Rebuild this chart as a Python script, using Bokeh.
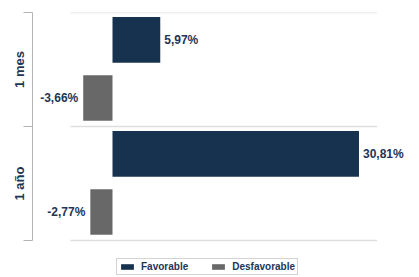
import math
from bokeh.plotting import figure
from bokeh.models import Range1d, FixedTicker, LinearAxis, Legend, LegendItem
from bokeh.core.properties import value
from bokeh.embed import file_html
from bokeh.resources import INLINE

# ---- data ----
categories = ["1 mes", "1 año"]
favorable = [5.97, 30.81]
desfavorable = [-3.66, -2.77]
series_names = ["Favorable", "Desfavorable"]

# ---- styles ----
NAVY = "#17324f"
GREY = "#686868"
TEXT = "#1d3557"
GRID = "#dedede"
AXIS = "#b4b4b4"
FONT = "Liberation Sans"

n = len(categories)
base = [n - 1 - k for k in range(n)]          # first category on top
y_fav = [b + 0.76 for b in base]
y_des = [b + 0.25 for b in base]


def fmt(v):
    return f"{v:.2f}".replace(".", ",") + "%"


p = figure(width=419, height=277, output_backend="svg", toolbar_location=None,
           x_range=Range1d(-10, 37.375), y_range=Range1d(-0.3246, n),
           x_axis_location=None, y_axis_location=None,
           min_border_left=32, min_border_right=8, min_border_top=12,
           min_border_bottom=0)
p.outline_line_color = None
p.background_fill_color = "white"
p.border_fill_color = "white"
p.grid.visible = False

# horizontal separators (category boundaries)
bounds = list(range(n + 1))
p.segment(x0=[-5.25] * len(bounds), x1=[33.06] * len(bounds), y0=bounds, y1=bounds,
          line_color=GRID, line_width=1.5)

r_fav = p.hbar(y=y_fav, left=0, right=favorable, height=0.4,
               fill_color=NAVY, line_color=None)
r_des = p.hbar(y=y_des, left=0, right=desfavorable, height=0.4,
               fill_color=GREY, line_color=None)

common = dict(text_font=value(FONT), text_font_style="bold", text_font_size="12px",
              text_color=TEXT, text_baseline="middle")
p.text(x=favorable, y=y_fav, text=[fmt(v) for v in favorable],
       x_offset=4, text_align="left", **common)
p.text(x=desfavorable, y=y_des, text=[fmt(v) for v in desfavorable],
       x_offset=-5, text_align="right", **common)

# category axis
centers = [b + 0.5 for b in base]
yaxis = LinearAxis(ticker=FixedTicker(ticks=centers, minor_ticks=bounds),
                   bounds=(0, n),
                   major_label_overrides={c: lab for c, lab in zip(centers, categories)},
                   major_label_orientation="parallel",
                   major_tick_in=0, major_tick_out=0,
                   minor_tick_in=0, minor_tick_out=9,
                   minor_tick_line_color=AXIS, axis_line_color=AXIS,
                   major_label_standoff=-4,
                   major_label_text_font=FONT, major_label_text_font_style="bold",
                   major_label_text_font_size="13px", major_label_text_color=TEXT)
p.add_layout(yaxis, "left")

legend = Legend(items=[LegendItem(label=series_names[0], renderers=[r_fav]),
                       LegendItem(label=series_names[1], renderers=[r_des])],
                orientation="horizontal", location=(84, 2),
                glyph_width=16, glyph_height=7, label_standoff=6, spacing=22,
                label_height=8, padding=2, margin=0,
                label_text_font=FONT, label_text_font_style="bold",
                label_text_font_size="10px", label_text_color=TEXT,
                border_line_color="#a8a8a8", border_line_width=1.5,
                background_fill_color="white", background_fill_alpha=1.0)
p.add_layout(legend, "center")

open("out.html", "w").write(file_html(p, INLINE))
